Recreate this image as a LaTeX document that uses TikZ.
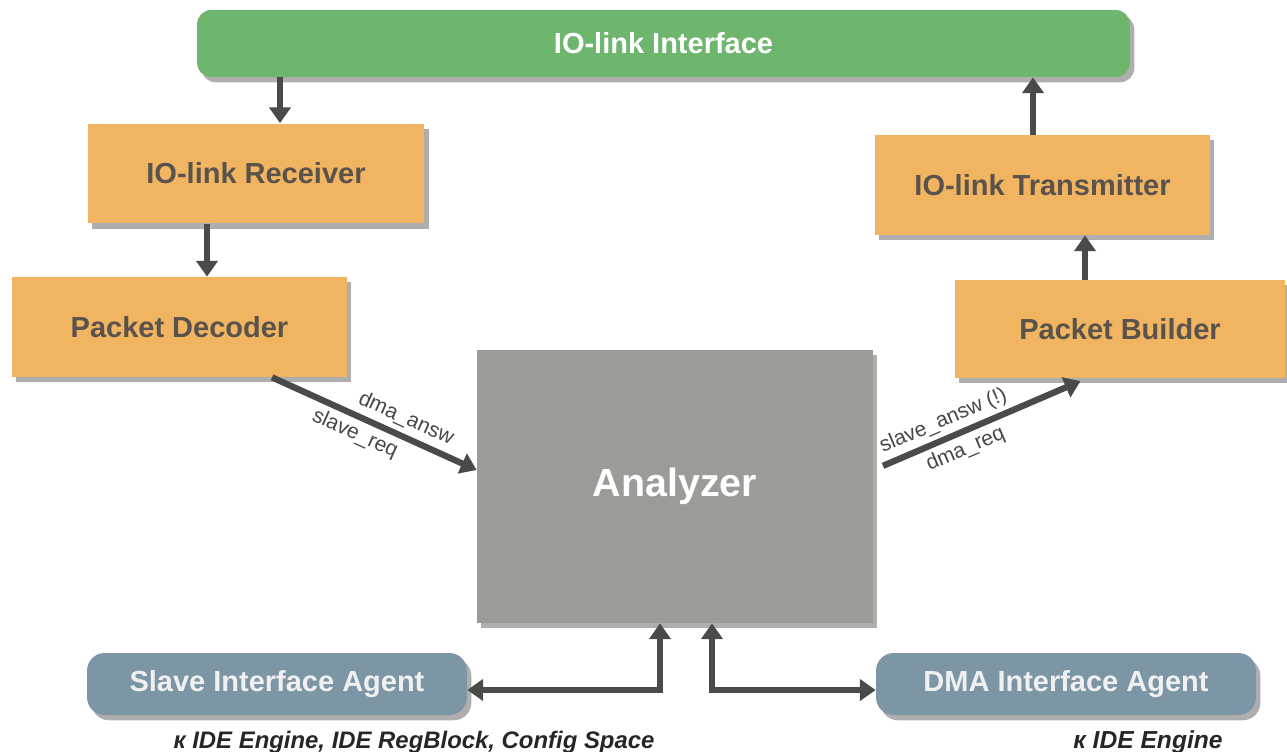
\documentclass[tikz,border=0pt]{standalone}
\usepackage{fontspec}
\setmainfont{Liberation Sans}
\usetikzlibrary{arrows.meta,shadows}
\definecolor{ifgreen}{RGB}{110,182,110}
\definecolor{blkorange}{RGB}{241,180,96}
\definecolor{anagray}{RGB}{155,155,152}
\definecolor{agentblue}{RGB}{125,150,165}
\definecolor{arrgray}{RGB}{74,74,74}
\definecolor{txtbrown}{RGB}{90,82,76}
\tikzset{
  shad/.style={drop shadow={shadow xshift=2.5pt,shadow yshift=-3pt,opacity=0.45,fill=black!70}},
  iface/.style={shad,fill=ifgreen,rounded corners=8pt,minimum width=18.66cm,minimum height=1.34cm,
    font=\fontsize{16.5}{18}\selectfont\bfseries,text=white},
  blk/.style={shad,fill=blkorange,minimum width=#1,minimum height=2cm,
    font=\fontsize{16.5}{18}\selectfont\bfseries,text=txtbrown},
  ana/.style={shad,fill=anagray,minimum width=7.92cm,minimum height=5.46cm,
    font=\fontsize{22.4}{24}\selectfont\bfseries,text=white},
  agent/.style={shad,fill=agentblue,rounded corners=10pt,minimum width=7.6cm,minimum height=1.24cm,
    font=\fontsize{16.5}{18}\selectfont\bfseries,text=white!94!black},
  note/.style={font=\fontsize{14}{16}\selectfont\bfseries\itshape,text=black!85},
  lbl/.style={font=\fontsize{12}{13}\selectfont,text=black!72,inner sep=2.5pt},
  arr/.style={draw=arrgray,line width=3.6pt,-{Triangle[width=12pt,length=9pt]}},
  arrtwo/.style={draw=arrgray,line width=3.6pt,{Triangle[width=12pt,length=9pt]}-{Triangle[width=12pt,length=9pt]}}
}

\begin{document}
\begin{tikzpicture}[x=0.02cm,y=-0.02cm]
  \useasboundingbox (0,0) rectangle (1287,751);
  % top bar
  \node[iface] (iface) at (663.5,43.5) {IO-link Interface};
  % left column
  \node[blk=6.74cm] (rec) at (256,173.5) {IO-link Receiver};
  \node[blk=6.7cm] (dec) at (179.5,327) {Packet Decoder};
  % right column
  \node[blk=6.7cm] (tx) at (1042.5,185) {IO-link Transmitter};
  \node[blk=6.6cm,minimum height=1.96cm] (bld) at (1120,329) {Packet Builder};
  % centre
  \node[ana] (ana) at (675,486.5) {Analyzer};
  % agents
  \node[agent] (slv) at (277,684) {Slave Interface Agent};
  \node[agent] (dmaag) at (1066,684) {DMA Interface Agent};
  % notes under agents
  \node[note,font=\fontsize{13.6}{16}\selectfont\bfseries\itshape] (slvnote) at (414,742) {к IDE Engine, IDE RegBlock, Config Space};
  \node[note] (dmanote) at (1148,742) {к IDE Engine};

  % receive path
  \draw[arr] (iface.south -| 280,0) -- (rec.north -| 280,0);
  \draw[arr] (rec.south -| 207,0) -- (dec.north -| 207,0);
  \draw[arr] (dec.south -| 272,0) -- node[lbl,sloped,above,pos=0.62] {dma\_answ}
    node[lbl,sloped,below,pos=0.44] {slave\_req} (ana.west |- 0,470);
  % transmit path
  \draw[arr,shorten <=6pt,shorten >=4pt] (ana.east |- 0,470) -- node[lbl,sloped,above,pos=0.36] {slave\_answ (!)}
    node[lbl,sloped,below,pos=0.40] {dma\_req} (bld.south -| 1087,0);
  \draw[arr] (bld.north -| 1085,0) -- (tx.south -| 1085,0);
  \draw[arr] (tx.north -| 1033,0) -- (iface.south -| 1033,0);
  % agents
  \draw[arrtwo] (slv.east |- 0,690) -- (660,690) -- (ana.south -| 660,0);
  \draw[arrtwo] (ana.south -| 712,0) -- (712,690) -- (dmaag.west |- 0,690);
\end{tikzpicture}
\end{document}
